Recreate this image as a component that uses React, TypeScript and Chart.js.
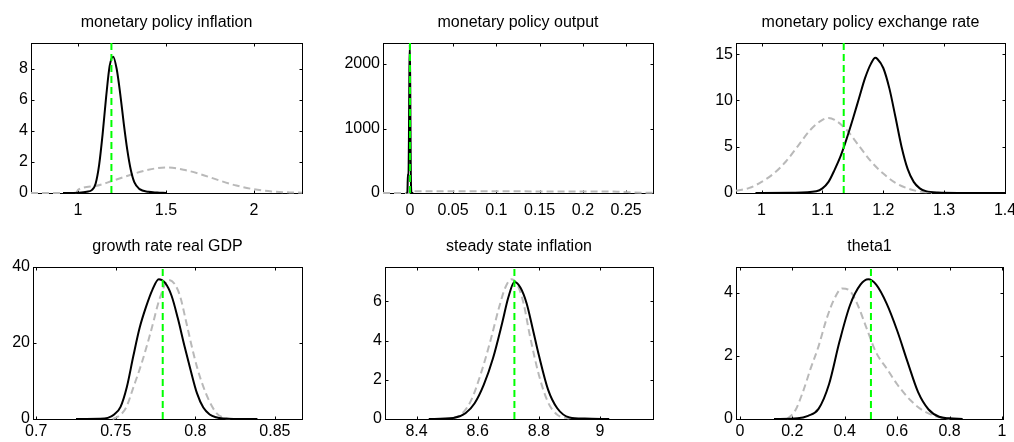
import React, { useEffect, useRef } from "react";
import { Chart, registerables } from "chart.js";
Chart.register(...registerables);

// ---------------- data ----------------
// Panel 1: monetary policy inflation
const P1_TITLE = "monetary policy inflation";
const P1_X_RANGE = [0.733, 2.273];
const P1_Y_MAX = 9.68;
const P1_X_TICKS = [1, 1.5, 2];
const P1_X_LABELS = ["1", "1.5", "2"];
const P1_Y_TICKS = [0, 2, 4, 6, 8];
const P1_Y_LABELS = ["0", "2", "4", "6", "8"];
const P1_PRIOR_X = [0.733, 0.9, 0.99, 1.0, 1.1, 1.2, 1.3, 1.4, 1.5, 1.6, 1.7, 1.8, 1.9, 2.0, 2.1, 2.2, 2.273];
const P1_PRIOR_Y = [0, 0, 0.01, 0.2, 0.45, 0.8, 1.18, 1.5, 1.65, 1.5, 1.2, 0.82, 0.48, 0.24, 0.1, 0.04, 0.02];
const P1_POST_X = [0.915, 1.0, 1.05, 1.08, 1.1, 1.12, 1.14, 1.16, 1.18, 1.2, 1.22, 1.24, 1.26, 1.28, 1.3, 1.32, 1.35, 1.4, 1.45, 1.5];
const P1_POST_Y = [0, 0.02, 0.08, 0.2, 0.6, 1.8, 3.8, 6.2, 8.2, 8.8, 8.0, 6.4, 4.5, 2.8, 1.5, 0.7, 0.25, 0.08, 0.03, 0];
const P1_MODE = 1.19;

// Panel 2: monetary policy output
const P2_TITLE = "monetary policy output";
const P2_X_RANGE = [-0.031, 0.281];
const P2_Y_MAX = 2326;
const P2_X_TICKS = [0, 0.05, 0.1, 0.15, 0.2, 0.25];
const P2_X_LABELS = ["0", "0.05", "0.1", "0.15", "0.2", "0.25"];
const P2_Y_TICKS = [0, 1000, 2000];
const P2_Y_LABELS = ["0", "1000", "2000"];
const P2_PRIOR_X = [-0.031, -0.0005, 0, 0.01, 0.05, 0.1, 0.15, 0.2, 0.24, 0.26, 0.281];
const P2_PRIOR_Y = [0, 0, 28, 28, 27, 26, 25, 24, 20, 8, 2];
const P2_POST_X = [-0.004, -0.0028, -0.0022, -0.0016, -0.001, -0.0005, 0, 0.0005, 0.001, 0.0015, 0.002, 0.004];
const P2_POST_Y = [0, 20, 300, 260, 900, 1900, 2300, 1600, 500, 60, 5, 0];
const P2_MODE = 0.0002;

// Panel 3: monetary policy exchange rate
const P3_TITLE = "monetary policy exchange rate";
const P3_X_RANGE = [0.958, 1.4];
const P3_Y_MAX = 16.2;
const P3_X_TICKS = [1, 1.1, 1.2, 1.3, 1.4];
const P3_X_LABELS = ["1", "1.1", "1.2", "1.3", "1.4"];
const P3_Y_TICKS = [0, 5, 10, 15];
const P3_Y_LABELS = ["0", "5", "10", "15"];
const P3_PRIOR_X = [0.958, 0.98, 1.0, 1.02, 1.04, 1.06, 1.08, 1.1, 1.11, 1.12, 1.14, 1.16, 1.18, 1.2, 1.22, 1.24, 1.26, 1.28];
const P3_PRIOR_Y = [0.25, 0.55, 1.2, 2.1, 3.4, 5.1, 6.8, 7.9, 8.1, 7.9, 6.8, 5.1, 3.4, 2.1, 1.1, 0.5, 0.15, 0.03];
const P3_POST_X = [0.99, 1.05, 1.09, 1.1, 1.11, 1.12, 1.13, 1.14, 1.15, 1.16, 1.17, 1.18, 1.187, 1.19, 1.2, 1.21, 1.22, 1.23, 1.24, 1.25, 1.26, 1.27, 1.29, 1.33, 1.4];
const P3_POST_Y = [0, 0.03, 0.2, 0.5, 1.2, 2.5, 4.0, 5.9, 8.0, 10.2, 12.4, 14.0, 14.6, 14.5, 13.5, 11.3, 8.2, 5.0, 2.6, 1.2, 0.5, 0.2, 0.05, 0.01, 0];
const P3_MODE = 1.135;

// Panel 4: growth rate real GDP
const P4_TITLE = "growth rate real GDP";
const P4_X_RANGE = [0.698, 0.867];
const P4_Y_MAX = 40;
const P4_X_TICKS = [0.7, 0.75, 0.8, 0.85];
const P4_X_LABELS = ["0.7", "0.75", "0.8", "0.85"];
const P4_Y_TICKS = [0, 20, 40];
const P4_Y_LABELS = ["0", "20", "40"];
const P4_PRIOR_X = [0.748, 0.752, 0.7565, 0.7612, 0.7665, 0.7717, 0.778, 0.7832, 0.787, 0.7905, 0.794, 0.7978, 0.8015, 0.805, 0.809, 0.8134, 0.818, 0.822];
const P4_PRIOR_Y = [0, 0.8, 3, 8.5, 15, 22.5, 32.2, 36.6, 35.5, 32.2, 26, 19, 13, 8.5, 4.5, 1.5, 0.3, 0];
const P4_POST_X = [0.725, 0.74, 0.745, 0.749, 0.753, 0.757, 0.761, 0.765, 0.769, 0.773, 0.777, 0.781, 0.785, 0.789, 0.793, 0.797, 0.801, 0.805, 0.809, 0.813, 0.818, 0.825, 0.839];
const P4_POST_Y = [0, 0.05, 0.3, 1.2, 3.2, 8.5, 16.5, 24, 29.5, 34, 36.8, 35.8, 32.5, 26.5, 19.5, 12.9, 6.8, 3.0, 1.2, 0.45, 0.12, 0.02, 0];
const P4_MODE = 0.7795;

// Panel 5: steady state inflation
const P5_TITLE = "steady state inflation";
const P5_X_RANGE = [8.297, 9.173];
const P5_Y_MAX = 7.76;
const P5_X_TICKS = [8.4, 8.6, 8.8, 9];
const P5_X_LABELS = ["8.4", "8.6", "8.8", "9"];
const P5_Y_TICKS = [0, 2, 4, 6];
const P5_Y_LABELS = ["0", "2", "4", "6"];
const P5_PRIOR_X = [8.52, 8.55, 8.58, 8.61, 8.64, 8.67, 8.69, 8.71, 8.73, 8.75, 8.77, 8.8, 8.83, 8.86, 8.9];
const P5_PRIOR_Y = [0.03, 0.29, 1.0, 2.3, 3.9, 5.7, 6.7, 7.13, 6.85, 5.9, 4.3, 2.25, 0.85, 0.22, 0.02];
const P5_POST_X = [8.44, 8.52, 8.56, 8.59, 8.62, 8.65, 8.68, 8.7, 8.72, 8.74, 8.76, 8.78, 8.8, 8.83, 8.86, 8.9, 8.95, 9.03];
const P5_POST_Y = [0, 0.05, 0.29, 0.8, 1.75, 3.1, 4.9, 6.2, 7.0, 6.7, 5.9, 4.6, 3.25, 1.5, 0.55, 0.08, 0.02, 0];
const P5_MODE = 8.72;

// Panel 6: theta1
const P6_TITLE = "theta1";
const P6_X_RANGE = [-0.015, 1.004];
const P6_Y_MAX = 4.81;
const P6_X_TICKS = [0, 0.2, 0.4, 0.6, 0.8, 1];
const P6_X_LABELS = ["0", "0.2", "0.4", "0.6", "0.8", "1"];
const P6_Y_TICKS = [0, 2, 4];
const P6_Y_LABELS = ["0", "2", "4"];
const P6_PRIOR_X = [0.18, 0.21, 0.24, 0.27, 0.3, 0.33, 0.36, 0.39, 0.42, 0.45, 0.48, 0.52, 0.56, 0.6, 0.65, 0.7, 0.75, 0.8];
const P6_PRIOR_Y = [0, 0.25, 0.85, 1.6, 2.3, 3.15, 3.8, 4.13, 4.05, 3.6, 2.95, 2.1, 1.6, 1.1, 0.6, 0.26, 0.08, 0.01];
const P6_POST_X = [0.13, 0.22, 0.26, 0.3, 0.34, 0.38, 0.42, 0.46, 0.49, 0.52, 0.56, 0.6, 0.64, 0.68, 0.72, 0.76, 0.8, 0.85];
const P6_POST_Y = [0, 0.02, 0.1, 0.32, 1.1, 2.45, 3.6, 4.25, 4.42, 4.25, 3.65, 2.8, 1.8, 0.85, 0.3, 0.07, 0.02, 0];
const P6_MODE = 0.5;

// ---------------- layout / style ----------------
const FONT = "'Liberation Sans', Arial, Helvetica, sans-serif";
const AX_W = 50;
const TOP_H = 30; // 2 pad + 16 title + 12 gap
const BOT_H = 26;
const PRIOR_COLOR = "#b9b9b9";
const MODE_COLOR = "#00ff00";

type PanelDef = {
  title: string;
  box: [number, number, number, number]; // l, t, r, b
  labelPad: number;
  xRange: number[];
  yMax: number;
  xTicks: number[];
  xLabels: string[];
  yTicks: number[];
  yLabels: string[];
  priorX: number[];
  priorY: number[];
  postX: number[];
  postY: number[];
  mode: number;
};

const PANELS: PanelDef[] = [
  { title: P1_TITLE, box: [31, 43, 302, 193], labelPad: 8, xRange: P1_X_RANGE, yMax: P1_Y_MAX, xTicks: P1_X_TICKS, xLabels: P1_X_LABELS, yTicks: P1_Y_TICKS, yLabels: P1_Y_LABELS, priorX: P1_PRIOR_X, priorY: P1_PRIOR_Y, postX: P1_POST_X, postY: P1_POST_Y, mode: P1_MODE },
  { title: P2_TITLE, box: [383, 43, 653, 193], labelPad: 8, xRange: P2_X_RANGE, yMax: P2_Y_MAX, xTicks: P2_X_TICKS, xLabels: P2_X_LABELS, yTicks: P2_Y_TICKS, yLabels: P2_Y_LABELS, priorX: P2_PRIOR_X, priorY: P2_PRIOR_Y, postX: P2_POST_X, postY: P2_POST_Y, mode: P2_MODE },
  { title: P3_TITLE, box: [736, 43, 1005, 193], labelPad: 8, xRange: P3_X_RANGE, yMax: P3_Y_MAX, xTicks: P3_X_TICKS, xLabels: P3_X_LABELS, yTicks: P3_Y_TICKS, yLabels: P3_Y_LABELS, priorX: P3_PRIOR_X, priorY: P3_PRIOR_Y, postX: P3_POST_X, postY: P3_POST_Y, mode: P3_MODE },
  { title: P4_TITLE, box: [33, 267, 302, 419], labelPad: 3, xRange: P4_X_RANGE, yMax: P4_Y_MAX, xTicks: P4_X_TICKS, xLabels: P4_X_LABELS, yTicks: P4_Y_TICKS, yLabels: P4_Y_LABELS, priorX: P4_PRIOR_X, priorY: P4_PRIOR_Y, postX: P4_POST_X, postY: P4_POST_Y, mode: P4_MODE },
  { title: P5_TITLE, box: [385, 267, 653, 419], labelPad: 3, xRange: P5_X_RANGE, yMax: P5_Y_MAX, xTicks: P5_X_TICKS, xLabels: P5_X_LABELS, yTicks: P5_Y_TICKS, yLabels: P5_Y_LABELS, priorX: P5_PRIOR_X, priorY: P5_PRIOR_Y, postX: P5_POST_X, postY: P5_POST_Y, mode: P5_MODE },
  { title: P6_TITLE, box: [736, 267, 1003, 419], labelPad: 3, xRange: P6_X_RANGE, yMax: P6_Y_MAX, xTicks: P6_X_TICKS, xLabels: P6_X_LABELS, yTicks: P6_Y_TICKS, yLabels: P6_Y_LABELS, priorX: P6_PRIOR_X, priorY: P6_PRIOR_Y, postX: P6_POST_X, postY: P6_POST_Y, mode: P6_MODE },
];

const zip = (xs: number[], ys: number[]) => xs.map((x, i) => ({ x, y: ys[i] }));

const boxPlugin = {
  id: "matlabBox",
  beforeDatasetsDraw(chart: any, _args: any, opts: any) {
    const { ctx, chartArea: a, scales } = chart;
    const l = Math.round(a.left) + 0.5;
    const r = Math.round(a.right) + 0.5;
    const t = Math.round(a.top) + 0.5;
    const b = Math.round(a.bottom) + 0.5;
    ctx.save();
    ctx.strokeStyle = "#000";
    ctx.lineWidth = 1;
    ctx.strokeRect(l, t, r - l, b - t);
    const len = 3;
    ctx.beginPath();
    for (const v of opts.xTicks as number[]) {
      const px = Math.round(scales.x.getPixelForValue(v)) + 0.5;
      ctx.moveTo(px, b);
      ctx.lineTo(px, b - len);
      ctx.moveTo(px, t);
      ctx.lineTo(px, t + len);
    }
    for (const v of opts.yTicks as number[]) {
      const py = Math.round(scales.y.getPixelForValue(v)) + 0.5;
      ctx.moveTo(l, py);
      ctx.lineTo(l + len, py);
      ctx.moveTo(r, py);
      ctx.lineTo(r - len, py);
    }
    ctx.stroke();
    ctx.restore();
  },
};

function Panel({ p }: { p: PanelDef }) {
  const ref = useRef<HTMLCanvasElement | null>(null);
  const [l, t, r, b] = p.box;
  const cw = r - l + 2 * AX_W;
  const ch = b - t + TOP_H + BOT_H;

  useEffect(() => {
    if (!ref.current) return;
    const tickFont = { family: FONT, size: 16, lineHeight: 1.2 };
    const chart = new Chart(ref.current, {
      type: "line",
      data: {
        datasets: [
          {
            data: zip([p.mode, p.mode], [0, p.yMax]),
            borderColor: MODE_COLOR,
            borderWidth: 2,
            borderDash: [7, 4],
            pointRadius: 0,
            clip: false,
          },
          {
            data: zip(p.postX, p.postY),
            borderColor: "#000",
            borderWidth: 2,
            pointRadius: 0,
            cubicInterpolationMode: "monotone",
            clip: false,
          },
          {
            data: zip(p.priorX, p.priorY),
            borderColor: PRIOR_COLOR,
            borderWidth: 2,
            borderDash: [7, 4],
            pointRadius: 0,
            cubicInterpolationMode: "monotone",
            clip: false,
          },
        ],
      } as any,
      options: {
        responsive: false,
        animation: false,
        devicePixelRatio: 1,
        events: [],
        layout: { padding: { top: 2, left: 0, right: 0, bottom: 0 } },
        plugins: {
          legend: { display: false },
          tooltip: { enabled: false },
          title: {
            display: true,
            text: p.title,
            fullSize: false,
            color: "#000",
            font: { family: FONT, size: 16, weight: "normal", lineHeight: 1 },
            padding: { top: 0, bottom: 12 },
          },
          matlabBox: { xTicks: p.xTicks, yTicks: p.yTicks },
        } as any,
        scales: {
          x: {
            type: "linear",
            min: p.xRange[0],
            max: p.xRange[1],
            grid: { display: false, drawTicks: false },
            border: { display: false },
            ticks: {
              autoSkip: false,
              maxRotation: 0,
              padding: p.labelPad,
              color: "#000",
              font: tickFont,
              callback: (_v: any, i: number) => p.xLabels[i],
            },
            afterBuildTicks: (s: any) => {
              s.ticks = p.xTicks.map((v) => ({ value: v }));
            },
            afterFit: (s: any) => {
              s.height = BOT_H;
              s.paddingLeft = 0;
              s.paddingRight = 0;
            },
          },
          y: {
            type: "linear",
            position: "left",
            min: 0,
            max: p.yMax,
            grid: { display: false, drawTicks: false },
            border: { display: false },
            ticks: {
              autoSkip: false,
              padding: 3,
              color: "#000",
              font: tickFont,
              callback: (_v: any, i: number) => p.yLabels[i],
            },
            afterBuildTicks: (s: any) => {
              s.ticks = p.yTicks.map((v) => ({ value: v }));
            },
            afterFit: (s: any) => {
              s.width = AX_W;
              s.paddingTop = 0;
              s.paddingBottom = 0;
            },
          },
          y2: {
            type: "linear",
            position: "right",
            grid: { display: false, drawTicks: false },
            border: { display: false },
            ticks: { display: false },
            afterFit: (s: any) => {
              s.width = AX_W;
              s.paddingTop = 0;
              s.paddingBottom = 0;
            },
          },
        },
      } as any,
      plugins: [boxPlugin as any],
    });
    return () => chart.destroy();
  }, []);

  return (
    <canvas
      ref={ref}
      width={cw}
      height={ch}
      style={{ position: "absolute", left: l - AX_W, top: t - TOP_H, width: cw, height: ch }}
    />
  );
}

export default function App() {
  return (
    <div
      style={{
        position: "fixed",
        left: 0,
        top: 0,
        width: 1014,
        height: 442,
        background: "#fff",
        overflow: "hidden",
      }}
    >
      {PANELS.map((p, i) => (
        <Panel key={i} p={p} />
      ))}
    </div>
  );
}
